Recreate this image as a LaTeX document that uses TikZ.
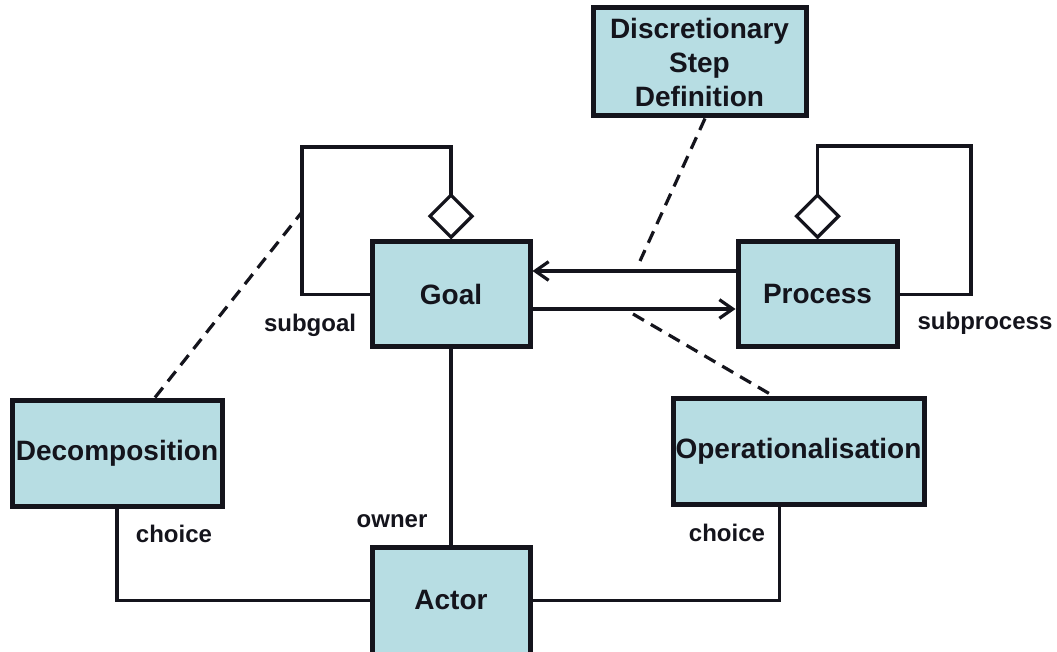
\documentclass[tikz,border=0pt]{standalone}
\usepackage{fontspec}
\setmainfont{Liberation Sans}
\usetikzlibrary{arrows.meta,calc}

\definecolor{boxfill}{RGB}{183,221,227}
\definecolor{ink}{RGB}{20,20,28}

\begin{document}
\begin{tikzpicture}[
  x=0.75pt, y=-0.75pt,
  classbox/.style={draw=ink, fill=boxfill, line width=3.75pt, inner sep=0pt,
    align=center, font=\fontsize{21}{25.5}\selectfont\bfseries, text=ink},
  link/.style={draw=ink, line width=2.4pt},
  refline/.style={draw=ink, line width=2.4pt, dash pattern=on 9.5pt off 6pt},
  agg/.style={link, -{Diamond[open, length=35pt, width=35pt, line width=2.4pt]}},
  nav/.style={link, -{Straight Barb[length=10pt, width=14pt, line width=2.4pt]}},
  role/.style={font=\fontsize{18}{22}\selectfont\bfseries, text=ink, inner sep=0pt}
]
\useasboundingbox (0,0) rectangle (1057,652);
\clip (0,0) rectangle (1057,652);
\fill[white] (0,0) rectangle (1057,652);

% classes
\node[classbox, minimum width=158*0.75pt, minimum height=105*0.75pt] (goal) at (451,294.5) {Goal};
\node[classbox, minimum width=159*0.75pt, minimum height=105*0.75pt] (process) at (817.5,294.5) {Process};
\node[classbox, minimum width=213*0.75pt, minimum height=108*0.75pt] (dsd) at (699.5,62) {Discretionary\\Step\\Definition};
\node[classbox, minimum width=210*0.75pt, minimum height=106*0.75pt] (dec) at (117,453) {Decomposition};
\node[classbox, minimum width=251*0.75pt, minimum height=106*0.75pt] (op) at (798.5,451) {Operationalisation};
\node[classbox, minimum width=158*0.75pt, minimum height=107*0.75pt] (actor) at (451,600.5) {Actor};

% self-aggregations
\draw[agg] (goal.west) -| (302,147) -| (goal.north);
\draw[agg] (process.east) -| (971,146) -| (process.north);

% navigable associations between Goal and Process
\coordinate (upper) at (0,271);
\coordinate (lower) at (0,309);
\draw[nav] (process.west |- upper) -- (goal.east |- upper);
\draw[nav] (goal.east |- lower) -- (process.west |- lower);

% association classes
\coordinate (decAnchor) at (302,212);
\coordinate (dsdAnchor) at (640,261);
\coordinate (opAnchor) at (633,314);
\draw[refline] ($(dec.north)+(38,0)$) -- (decAnchor);
\draw[refline] ($(dsd.south)+(5.5,0)$) -- (dsdAnchor);
\draw[refline] (opAnchor) -- ($(op.north)+(-26,0)$);

% actor associations
\draw[link] (goal.south) -- (actor.north);
\draw[link] (dec.south) |- (actor.west);
\draw[link] ($(op.south)+(-19,0)$) |- (actor.east);

% role names
\node[role] (lsubgoal) at (310,325) {subgoal};
\node[role] (lsubprocess) at (985,323) {subprocess};
\node[role] (lowner) at (392,521) {owner};
\node[role] (lchoice1) at (174,534) {choice};
\node[role] (lchoice2) at (727,533) {choice};
\end{tikzpicture}
\end{document}
